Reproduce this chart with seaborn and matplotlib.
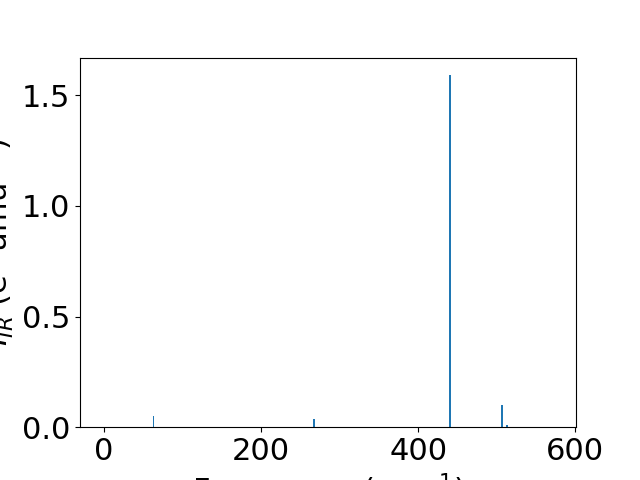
import matplotlib
matplotlib.use("Agg")
import matplotlib.pyplot as plt
import seaborn as sns
import pandas as pd

# IR stick spectrum values
freqs = [63, 267, 441, 507, 513]
intensities = [0.05, 0.036, 1.59, 0.10, 0.009]

df = pd.DataFrame({"freq": freqs, "ir": intensities})

plt.rcParams["font.size"] = 22
fig, ax = plt.subplots(figsize=(6.4, 4.8), dpi=100)
ax.bar(df["freq"], df["ir"], width=2.5, color=sns.color_palette("tab10")[0])
ax.set_xlim(-30.6, 601)
ax.set_xlabel("Frequency (cm$^{-1}$)")
ax.set_ylabel("$I_{IR}$ (e$^2$ amu$^{-1}$)")
fig.savefig("out.png")
